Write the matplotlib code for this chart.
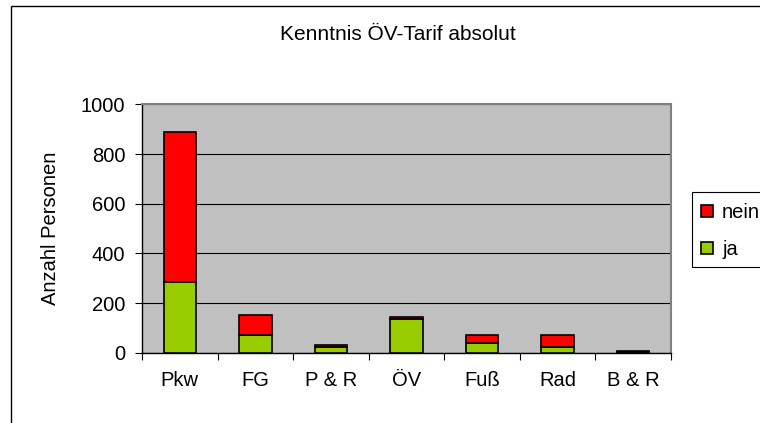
import numpy as np
import matplotlib
matplotlib.use('Agg')
from matplotlib import pyplot as plt
from matplotlib.patches import Rectangle

plt.rcParams['font.family'] = ['Liberation Sans', 'DejaVu Sans']

categories = ['Pkw', 'FG', 'P & R', 'ÖV', 'Fuß', 'Rad', 'B & R']
ja = [283, 71, 22, 136, 40, 21, 3]
nein = [605, 81, 9, 8, 33, 52, 4]
yticks = [0, 200, 400, 600, 800, 1000]

W, H = 760, 423
FS = 14.5
fig = plt.figure(figsize=(W / 100, H / 100), dpi=100)
fig.patch.set_facecolor('white')

# outer chart frame, cut off at right and bottom like the screenshot
fig.patches.append(Rectangle((10.5 / W, -0.05), 1.2, 1 - 6.5 / H + 0.05,
                             transform=fig.transFigure, fill=False,
                             edgecolor='black', lw=1.0))

ax = fig.add_axes([142 / W, 1 - 352.7 / H, (671 - 142) / W, (352.7 - 104.5) / H])
ax.set_facecolor('#c0c0c0')

x = np.arange(len(categories))
bw = 0.43
ax.bar(x, ja, bw, color='#99cc00', edgecolor='black', lw=1.2, label='ja', zorder=3)
ax.bar(x, nein, bw, bottom=ja, color='#ff0000', edgecolor='black', lw=1.2,
       label='nein', zorder=3)

ax.set_xlim(-0.5, len(categories) - 0.5)
ax.set_ylim(0, 1000)
ax.set_yticks(yticks)
ax.yaxis.grid(True, color='black', lw=0.8, zorder=1)
ax.set_axisbelow(True)

ax.set_xticks(x)
ax.set_xticklabels(categories, fontsize=FS)
ax.set_xticks(np.arange(-0.5, len(categories)), minor=True)
ax.tick_params(axis='x', which='major', length=0, pad=13)
ax.tick_params(axis='x', which='minor', length=5, width=0.8, direction='out')
ax.tick_params(axis='y', length=5, width=0.8, direction='out', pad=7, labelsize=FS)

for s in ['left', 'bottom']:
    ax.spines[s].set_color('black')
    ax.spines[s].set_linewidth(1.0)
for s in ['top', 'right']:
    ax.spines[s].set_color('#808080')
    ax.spines[s].set_linewidth(1.5)

ax.set_ylabel('Anzahl Personen', fontsize=FS, labelpad=15)
fig.text(398 / W, 1 - 34 / H, 'Kenntnis ÖV-Tarif absolut', ha='center', va='center',
         fontsize=15)

# legend box, also running off the right edge
fig.patches.append(Rectangle((692 / W, 1 - 267 / H), 0.2, 75 / H,
                             transform=fig.transFigure, fill=False,
                             edgecolor='black', lw=0.8))
h, l = ax.get_legend_handles_labels()
leg = fig.legend(h[::-1], l[::-1], loc='upper left',
                 bbox_to_anchor=(697 / W, 1 - 199 / H), frameon=False,
                 fontsize=FS, handlelength=0.6, handleheight=0.6,
                 handletextpad=0.45, labelspacing=0.9, borderpad=0.2,
                 borderaxespad=0)

fig.savefig('out.png', dpi=100)
